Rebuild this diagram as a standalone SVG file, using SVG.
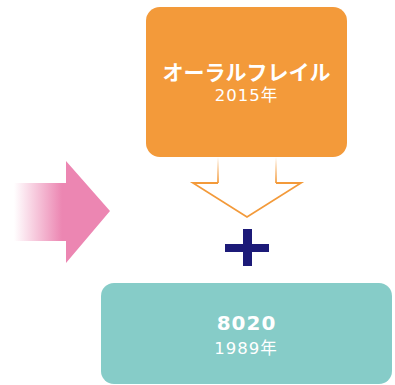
<svg xmlns="http://www.w3.org/2000/svg" width="395" height="385" viewBox="0 0 395 385">
<defs>
<style>
.t1{font-family:"Noto Sans CJK JP","Liberation Sans",sans-serif;font-weight:bold;fill:#fff;text-anchor:middle}
.t2{font-family:"DejaVu Sans","Noto Sans CJK JP",sans-serif;fill:#fff;text-anchor:middle}
</style>
<linearGradient id="pinkG" gradientUnits="userSpaceOnUse" x1="14" y1="0" x2="62" y2="0">
<stop offset="0" stop-color="#ec86b2" stop-opacity="0"/>
<stop offset="1" stop-color="#ec86b2"/>
</linearGradient>
<linearGradient id="shaftG" gradientUnits="userSpaceOnUse" x1="0" y1="157" x2="0" y2="184">
<stop offset="0" stop-color="#f39a3a" stop-opacity="0"/>
<stop offset="1" stop-color="#f39a3a"/>
</linearGradient>
</defs>
<g id="node-oral-frail">
<rect x="146" y="7" width="201" height="150" rx="14" fill="#f39a3a"/>
<text class="t1" x="246.5" y="80" font-size="21">オーラルフレイル</text>
<text class="t2" x="246.5" y="101" font-size="16.5" letter-spacing="1">2015年</text>
</g>
<g id="node-8020">
<rect x="101" y="283" width="291" height="101" rx="13" fill="#86ccc8"/>
<text class="t2" x="246.5" y="330" font-size="20" font-weight="bold" letter-spacing="1">8020</text>
<text class="t2" x="246" y="354" font-size="16.5" letter-spacing="1">1989年</text>
</g>
<g id="pink-arrow">
<polygon points="14,183 66,183 66,161 110,211 66,263 66,241 14,241" fill="url(#pinkG)"/>
</g>
<g id="plus">
<rect x="225" y="244" width="44" height="8" fill="#1c1a78"/>
<rect x="243" y="229" width="9" height="37" fill="#1c1a78"/>
</g>
<g id="connectors">
<path d="M218,157 V183 M276,157 V183" stroke="url(#shaftG)" stroke-width="1.8" fill="none"/>
<polyline points="218,183 193,183 247,217 301,183 276,183" fill="none" stroke="#f39a3a" stroke-width="1.8" stroke-linejoin="miter"/>
</g>
</svg>
